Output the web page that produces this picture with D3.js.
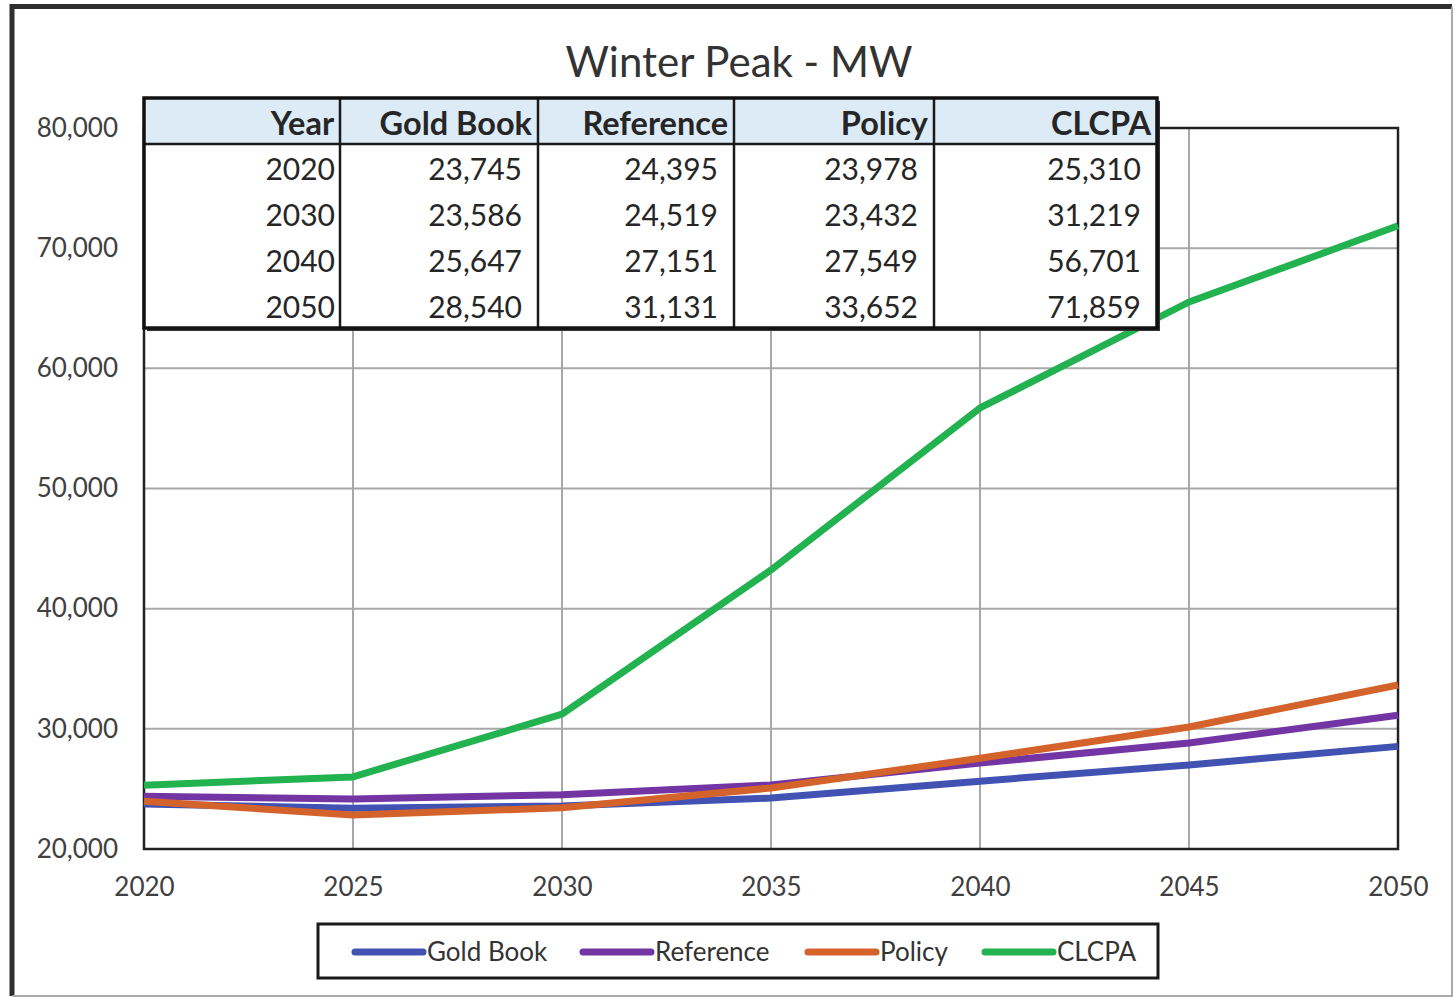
<!DOCTYPE html>
<html>
<head>
<meta charset="utf-8">
<script src="https://cdn.jsdelivr.net/npm/d3@7"></script>
<style>
    body { margin: 0; background: #fff; }
    text { font-family: Lato, "Open Sans", sans-serif; }
</style>
</head>
<body>
<div id="chart"></div>
<script>
'use strict';

// values (2020/2030/2040/2050 match the table)
const years = [2020, 2025, 2030, 2035, 2040, 2045, 2050];
const goldBook = [23745, 23400, 23586, 24240, 25647, 26990, 28540];
const reference = [24395, 24160, 24519, 25330, 27151, 28820, 31131];
const policy = [23978, 22830, 23432, 25080, 27549, 30150, 33652];
const clcpa = [25310, 26000, 31219, 43220, 56701, 65520, 71859];

const seriesNames = ["Gold Book", "Reference", "Policy", "CLCPA"];
const seriesColors = ["#4152b3", "#7334a4", "#d4632b", "#22b24f"];
const yTicks = [20000, 30000, 40000, 50000, 60000, 70000, 80000];
const tableYears = [2020, 2030, 2040, 2050];

const W = 1455, H = 997;
let margin = { top: 128, left: 144, right: 57, bottom: 148 },
    width = W - margin.left - margin.right,
    height = H - margin.top - margin.bottom;

let svg = d3.select("#chart").append("svg")
    .attr("width", W)
    .attr("height", H);

// outer frame
svg.append("path")
    .attr("d", "M12,996 L12,6.5 L1452,6.5")
    .attr("fill", "none").attr("stroke", "#2e2e2e").attr("stroke-width", 5);
svg.append("path")
    .attr("d", "M1452,6.5 L1452,996 L12,996")
    .attr("fill", "none").attr("stroke", "#aaa").attr("stroke-width", 2);

svg.append("text")
    .attr("x", 739).attr("y", 77)
    .attr("text-anchor", "middle")
    .attr("fill", "#333")
    .style("font-size", "42px")
    .text("Winter Peak - MW");

let x = d3.scaleLinear().domain([2020, 2050]).range([0, width]);
let y = d3.scaleLinear().domain([20000, 80000]).range([height, 0]);

let g = svg.append("g")
    .attr("transform", "translate(" + margin.left + "," + margin.top + ")");

// grid
g.append("g").selectAll("line").data(yTicks).enter().append("line")
    .attr("x1", 0).attr("x2", width)
    .attr("y1", d => y(d)).attr("y2", d => y(d))
    .attr("stroke", "#a8a8a8").attr("stroke-width", 2);
g.append("g").selectAll("line").data(years).enter().append("line")
    .attr("y1", 0).attr("y2", height)
    .attr("x1", d => x(d)).attr("x2", d => x(d))
    .attr("stroke", "#a8a8a8").attr("stroke-width", 2);

g.append("rect")
    .attr("width", width).attr("height", height)
    .attr("fill", "none").attr("stroke", "#222").attr("stroke-width", 2.5);

let xAxis = d3.axisBottom(x).tickValues(years).tickFormat(d3.format("d")).tickSize(0).tickPadding(29);
let yAxis = d3.axisLeft(y).tickValues(yTicks).tickFormat(d3.format(",")).tickSize(0).tickPadding(26);

g.append("g")
    .attr("transform", "translate(0," + height + ")")
    .call(xAxis)
    .call(a => a.select(".domain").remove())
    .selectAll("text")
    .attr("fill", "#404040")
    .style("font-family", "Lato")
    .style("font-size", "26px");

g.append("g")
    .call(yAxis)
    .call(a => a.select(".domain").remove())
    .selectAll("text")
    .attr("fill", "#404040")
    .style("font-family", "Lato")
    .style("font-size", "26px");

let series = [goldBook, reference, policy, clcpa];
let line = d3.line()
    .x((d, i) => x(years[i]))
    .y(d => y(d));

g.selectAll(".series")
    .data(series)
    .enter().append("path")
    .attr("class", "series")
    .attr("d", line)
    .attr("fill", "none")
    .attr("stroke", (d, i) => seriesColors[i])
    .attr("stroke-width", 7)
    .attr("stroke-linejoin", "round");

// data table on top of the plot
let colEdges = [144, 340, 538, 734, 934, 1157];
let tTop = 98, headH = 46, rowH = 46;
let rows = tableYears.map(yr => {
    let i = years.indexOf(yr);
    return [String(yr)].concat(series.map(s => d3.format(",")(s[i])));
});
let tBottom = tTop + headH + rowH * rows.length;

let tbl = svg.append("g");
tbl.append("rect")
    .attr("x", colEdges[0] + 3).attr("y", tTop + 3)
    .attr("width", colEdges[5] - colEdges[0]).attr("height", tBottom - tTop)
    .attr("fill", "#333");
tbl.append("rect")
    .attr("x", colEdges[0]).attr("y", tTop)
    .attr("width", colEdges[5] - colEdges[0]).attr("height", tBottom - tTop)
    .attr("fill", "#fff");
tbl.append("rect")
    .attr("x", colEdges[0]).attr("y", tTop)
    .attr("width", colEdges[5] - colEdges[0]).attr("height", headH)
    .attr("fill", "#ddebf7");
tbl.append("line")
    .attr("x1", colEdges[0]).attr("x2", colEdges[5])
    .attr("y1", tTop + headH).attr("y2", tTop + headH)
    .attr("stroke", "#1a1a1a").attr("stroke-width", 2.5);
tbl.selectAll(".vline").data(colEdges.slice(1, 5)).enter().append("line")
    .attr("class", "vline")
    .attr("x1", d => d).attr("x2", d => d)
    .attr("y1", tTop).attr("y2", tBottom)
    .attr("stroke", "#1a1a1a").attr("stroke-width", 2.5);
tbl.append("rect")
    .attr("x", colEdges[0]).attr("y", tTop)
    .attr("width", colEdges[5] - colEdges[0]).attr("height", tBottom - tTop)
    .attr("fill", "none").attr("stroke", "#111").attr("stroke-width", 3.5);

let headers = ["Year"].concat(seriesNames);
tbl.selectAll(".head").data(headers).enter().append("text")
    .attr("class", "head")
    .attr("x", (d, i) => colEdges[i + 1] - 6)
    .attr("y", tTop + 37)
    .attr("text-anchor", "end")
    .attr("fill", "#262626")
    .style("font-weight", "bold")
    .style("font-size", "32.5px")
    .text(d => d);

rows.forEach((r, ri) => {
    tbl.selectAll(".cell" + ri).data(r).enter().append("text")
        .attr("x", (d, i) => colEdges[i + 1] - (i == 0 ? 5 : 16))
        .attr("y", tTop + headH + rowH * ri + 36)
        .attr("text-anchor", "end")
        .attr("fill", "#262626")
        .style("font-size", "30px")
        .text(d => d);
});

// legend
let lg = svg.append("g");
lg.append("rect")
    .attr("x", 318).attr("y", 924)
    .attr("width", 840).attr("height", 54)
    .attr("fill", "#fff").attr("stroke", "#1a1a1a").attr("stroke-width", 3);
let legX = [355, 583, 808, 985];
let item = lg.selectAll(".leg").data(seriesNames).enter().append("g")
    .attr("transform", (d, i) => "translate(" + legX[i] + ",952)");
item.append("line")
    .attr("x1", 0).attr("x2", 68)
    .attr("stroke", (d, i) => seriesColors[i])
    .attr("stroke-width", 7)
    .attr("stroke-linecap", "round");
item.append("text")
    .attr("x", 72).attr("y", 9)
    .attr("fill", "#333")
    .style("font-size", "26px")
    .text(d => d);
</script>
</body>
</html>
